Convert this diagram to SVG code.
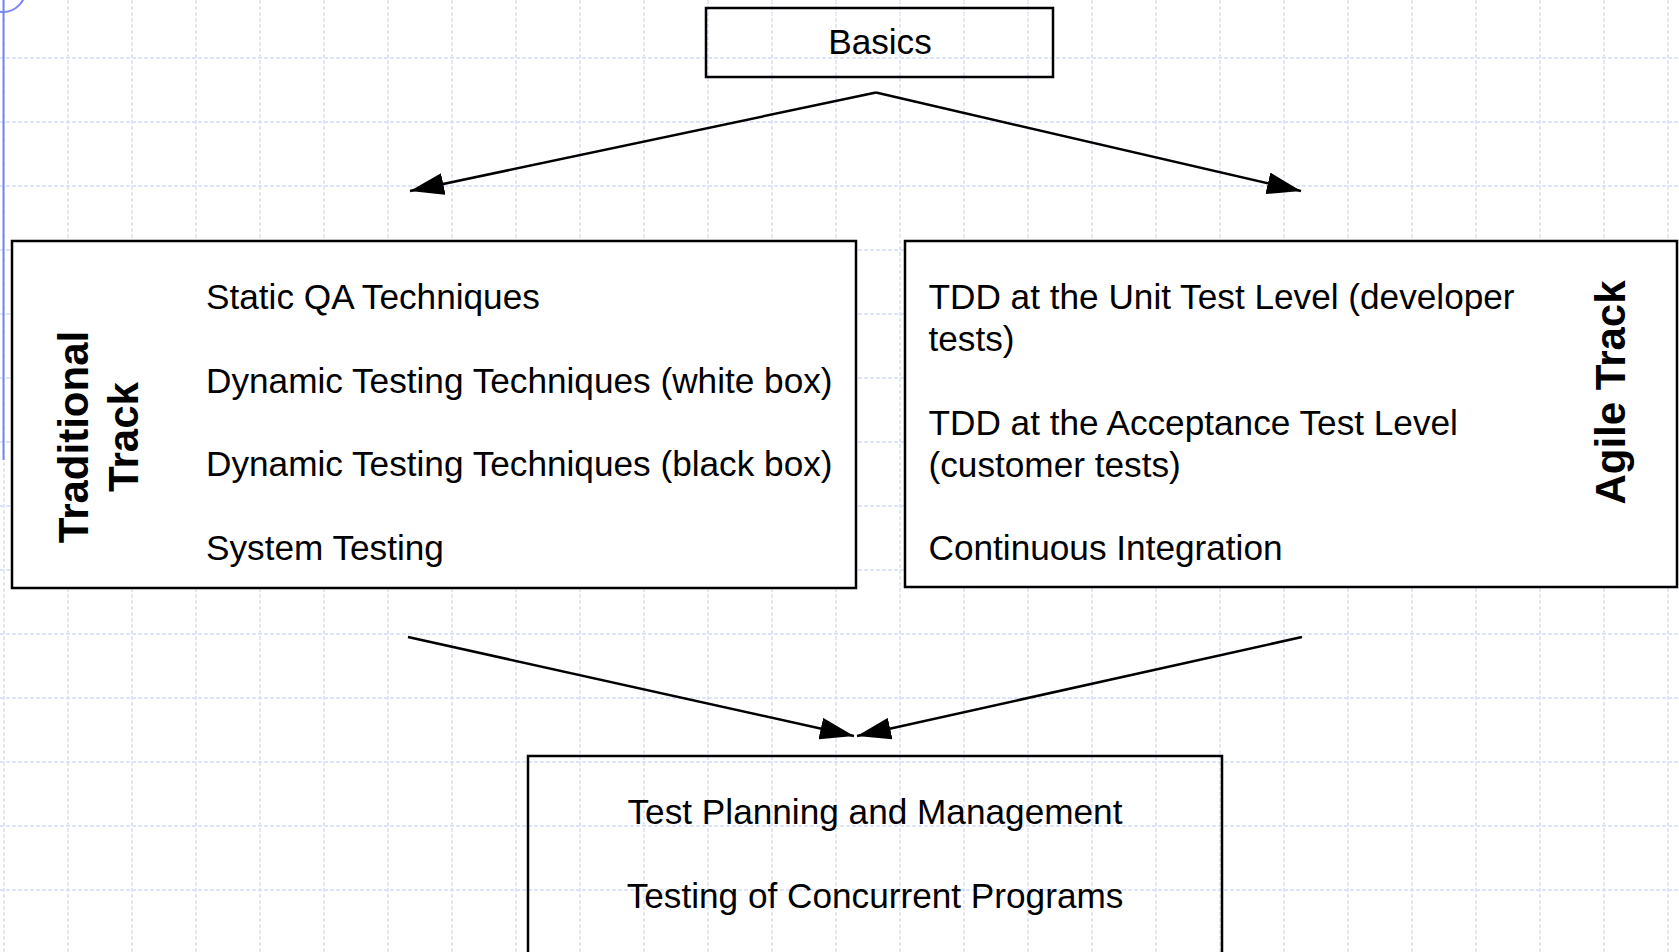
<svg xmlns="http://www.w3.org/2000/svg" width="1679" height="952" viewBox="0 0 1679 952">
  <style>
    .grid line { stroke: #d3dcf8; stroke-width: 1.3; stroke-dasharray: 4 2; }
    .box { fill: none; stroke: #000; stroke-width: 2.5; }
    .box.solid { fill: #fff; }
    .txt { font-family: "Liberation Sans", Arial, sans-serif; font-size: 35.2px; fill: #000; }
    .title { font-family: "Liberation Sans", Arial, sans-serif; font-size: 42px; font-weight: bold; fill: #000; }
    .conn { stroke: #000; stroke-width: 2.5; fill: none; marker-end: url(#arrow); }
  </style>
  <defs>
    <marker id="arrow" markerUnits="userSpaceOnUse" markerWidth="36" markerHeight="22" refX="34" refY="11" orient="auto">
      <path d="M0,0 L34,11 L0,22 z" fill="#000"/>
    </marker>
  </defs>

  <rect width="1679" height="952" fill="#fff"/>

  <!-- background drawing grid, 64px pitch -->
  <g class="grid" id="grid">
    <line x1="4" y1="0" x2="4" y2="952"/>
    <line x1="68" y1="0" x2="68" y2="952"/>
    <line x1="132" y1="0" x2="132" y2="952"/>
    <line x1="196" y1="0" x2="196" y2="952"/>
    <line x1="260" y1="0" x2="260" y2="952"/>
    <line x1="324" y1="0" x2="324" y2="952"/>
    <line x1="388" y1="0" x2="388" y2="952"/>
    <line x1="452" y1="0" x2="452" y2="952"/>
    <line x1="516" y1="0" x2="516" y2="952"/>
    <line x1="580" y1="0" x2="580" y2="952"/>
    <line x1="644" y1="0" x2="644" y2="952"/>
    <line x1="708" y1="0" x2="708" y2="952"/>
    <line x1="772" y1="0" x2="772" y2="952"/>
    <line x1="836" y1="0" x2="836" y2="952"/>
    <line x1="900" y1="0" x2="900" y2="952"/>
    <line x1="964" y1="0" x2="964" y2="952"/>
    <line x1="1028" y1="0" x2="1028" y2="952"/>
    <line x1="1092" y1="0" x2="1092" y2="952"/>
    <line x1="1156" y1="0" x2="1156" y2="952"/>
    <line x1="1220" y1="0" x2="1220" y2="952"/>
    <line x1="1284" y1="0" x2="1284" y2="952"/>
    <line x1="1348" y1="0" x2="1348" y2="952"/>
    <line x1="1412" y1="0" x2="1412" y2="952"/>
    <line x1="1476" y1="0" x2="1476" y2="952"/>
    <line x1="1540" y1="0" x2="1540" y2="952"/>
    <line x1="1604" y1="0" x2="1604" y2="952"/>
    <line x1="1668" y1="0" x2="1668" y2="952"/>
    <line x1="0" y1="58" x2="1679" y2="58"/>
    <line x1="0" y1="122" x2="1679" y2="122"/>
    <line x1="0" y1="186" x2="1679" y2="186"/>
    <line x1="0" y1="250" x2="1679" y2="250"/>
    <line x1="0" y1="314" x2="1679" y2="314"/>
    <line x1="0" y1="378" x2="1679" y2="378"/>
    <line x1="0" y1="442" x2="1679" y2="442"/>
    <line x1="0" y1="506" x2="1679" y2="506"/>
    <line x1="0" y1="570" x2="1679" y2="570"/>
    <line x1="0" y1="634" x2="1679" y2="634"/>
    <line x1="0" y1="698" x2="1679" y2="698"/>
    <line x1="0" y1="762" x2="1679" y2="762"/>
    <line x1="0" y1="826" x2="1679" y2="826"/>
    <line x1="0" y1="890" x2="1679" y2="890"/>
  </g>

  <!-- page margin guide -->
  <g id="margin-guide" fill="none" stroke="#7585f0" stroke-width="2">
    <line x1="3.5" y1="0" x2="3.5" y2="460"/>
    <circle cx="3" cy="-10.5" r="22.5"/>
  </g>

  <g id="basics">
    <rect class="box" x="706" y="8" width="347" height="69"/>
    <text class="txt" x="880" y="53.5" text-anchor="middle">Basics</text>
  </g>

  <g id="traditional-track">
    <rect class="box solid" x="12" y="241" width="844" height="347"/>
    <text class="title" transform="translate(88,437) rotate(-90)" text-anchor="middle">Traditional</text>
    <text class="title" transform="translate(138,437) rotate(-90)" text-anchor="middle">Track</text>
    <text class="txt" x="206" y="309">Static QA Techniques</text>
    <text class="txt" x="206" y="392.5">Dynamic Testing Techniques (white box)</text>
    <text class="txt" x="206" y="476">Dynamic Testing Techniques (black box)</text>
    <text class="txt" x="206" y="560">System Testing</text>
  </g>

  <g id="agile-track">
    <rect class="box solid" x="905" y="241" width="772" height="346"/>
    <text class="title" transform="translate(1625,392.5) rotate(-90)" text-anchor="middle">Agile Track</text>
    <text class="txt" x="928.5" y="309">TDD at the Unit Test Level (developer</text>
    <text class="txt" x="928.5" y="351">tests)</text>
    <text class="txt" x="928.5" y="435">TDD at the Acceptance Test Level</text>
    <text class="txt" x="928.5" y="477">(customer tests)</text>
    <text class="txt" x="928.5" y="560">Continuous Integration</text>
  </g>

  <g id="common-topics">
    <rect class="box" x="528" y="756" width="694" height="210"/>
    <text class="txt" x="875" y="824" text-anchor="middle">Test Planning and Management</text>
    <text class="txt" x="875" y="908" text-anchor="middle">Testing of Concurrent Programs</text>
  </g>

  <g id="connectors">
    <line class="conn" x1="876" y1="92.5" x2="410" y2="191"/>
    <line class="conn" x1="876" y1="92.5" x2="1301" y2="191"/>
    <line class="conn" x1="408" y1="637" x2="854" y2="736"/>
    <line class="conn" x1="1302" y1="637" x2="857" y2="736"/>
  </g>
</svg>
